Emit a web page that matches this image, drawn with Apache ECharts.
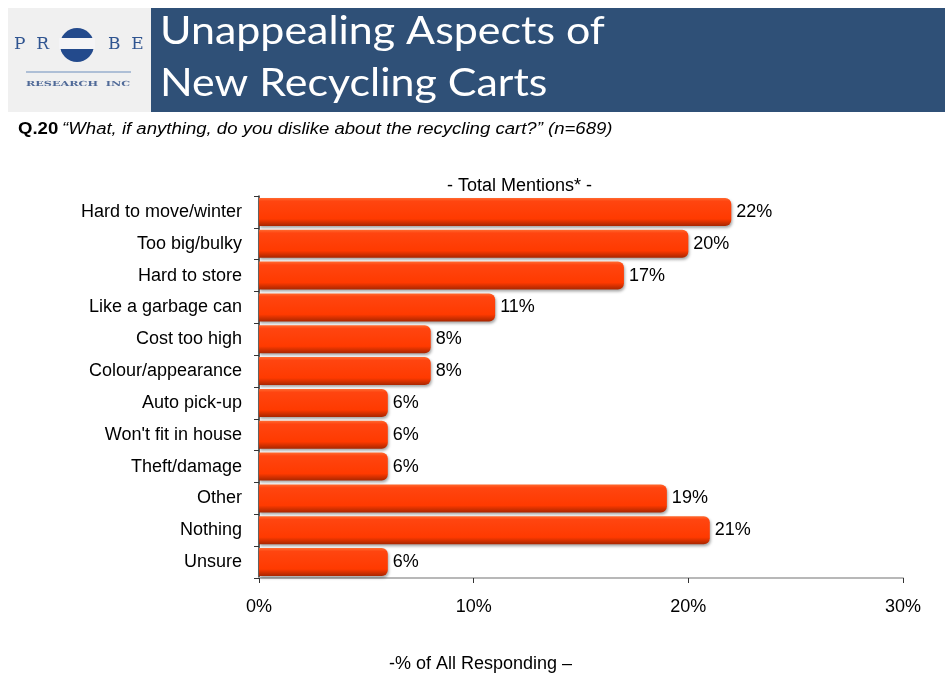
<!DOCTYPE html>
<html>
<head>
<meta charset="utf-8">
<script src="https://cdn.jsdelivr.net/npm/echarts@6/dist/echarts.min.js"></script>
<style>
  html, body { margin: 0; padding: 0; background: #fff; }
  #chart { width: 951px; height: 675px; }
</style>
</head>
<body>
<div id="chart"></div>
<script>
// categories, top to bottom
var categories = ['Hard to move/winter', 'Too big/bulky', 'Hard to store', 'Like a garbage can',
  'Cost too high', 'Colour/appearance', 'Auto pick-up', "Won't fit in house", 'Theft/damage',
  'Other', 'Nothing', 'Unsure'];
// total mentions, %
var mentions = [22, 20, 17, 11, 8, 8, 6, 6, 6, 19, 21, 6];
var xTicks = [0, 10, 20, 30];

var chart = echarts.init(document.getElementById('chart'));

var barColor = new echarts.graphic.LinearGradient(0, 0, 0, 1, [
  { offset: 0, color: '#ff6a30' },
  { offset: 0.12, color: '#ff4510' },
  { offset: 0.75, color: '#ff3a00' },
  { offset: 1, color: '#a82600' }
]);

chart.setOption({
  backgroundColor: '#fff',
  animation: false,
  textStyle: { fontFamily: 'Liberation Sans, Arial, sans-serif' },
  graphic: [
    // logo block
    { type: 'rect', shape: { x: 8, y: 8, width: 143, height: 104 }, style: { fill: '#f0f0f0' } },
    { type: 'text', x: 14, y: 36, style: { text: 'P  R', font: '17px "DejaVu Serif", serif', fill: '#2f5490' } },
    { type: 'circle', shape: { cx: 77, cy: 45, r: 17 }, style: { fill: '#234a8c' } },
    { type: 'rect', shape: { x: 59, y: 38, width: 36, height: 11 }, style: { fill: '#f4f4f6' } },
    { type: 'text', x: 108, y: 36, style: { text: 'B  E', font: '17px "DejaVu Serif", serif', fill: '#2f5490' } },
    { type: 'rect', shape: { x: 26, y: 71, width: 105, height: 2 }, style: { fill: '#aebfd6' } },
    { type: 'text', x: 26, y: 81, scaleX: 1.6, style: { text: 'RESEARCH  INC', font: 'bold 7px "DejaVu Serif", serif', fill: '#506a98' } },
    // title banner
    { type: 'rect', shape: { x: 151, y: 8, width: 794, height: 104 }, style: { fill: '#2f5077' } },
    { type: 'text', x: 160, y: 13, scaleX: 1.13, style: { text: 'Unappealing Aspects of', font: '38px Lato, "Open Sans", sans-serif', fill: '#ffffff' } },
    { type: 'text', x: 160, y: 65, scaleX: 1.13, style: { text: 'New Recycling Carts', font: '38px Lato, "Open Sans", sans-serif', fill: '#ffffff' } },
    // question
    { type: 'text', x: 18, y: 122, scaleX: 1.16, style: {
      text: '{b|Q.20} {i|\u201cWhat, if anything, do you dislike about the recycling cart?\u201d (n=689)}',
      rich: {
        b: { font: 'bold 16px "Liberation Sans", Arial', fill: '#000' },
        i: { font: 'italic 16px "Liberation Sans", Arial', fill: '#000' }
      }
    } },
    { type: 'text', x: 447, y: 177, style: { text: '- Total Mentions* -', font: '18px "Liberation Sans", Arial', fill: '#000' } },
    { type: 'text', x: 389, y: 655, style: { text: '-% of All Responding \u2013', font: '18px "Liberation Sans", Arial', fill: '#000' } }
  ],
  grid: { left: 259, right: 48, top: 196, bottom: 97 },
  xAxis: {
    type: 'value',
    min: xTicks[0],
    max: xTicks[xTicks.length - 1],
    interval: 10,
    axisLine: { show: true, lineStyle: { color: '#b8b8b8', width: 2 } },
    axisTick: { show: true, length: 5, lineStyle: { color: '#333' } },
    splitLine: { show: false },
    axisLabel: { formatter: '{value}%', color: '#000', fontSize: 18, margin: 20 }
  },
  yAxis: {
    type: 'category',
    data: categories,
    inverse: true,
    axisLine: { show: true, lineStyle: { color: '#333', width: 1.5 } },
    axisTick: { show: true, length: 5, lineStyle: { color: '#333' } },
    axisLabel: { color: '#000', fontSize: 18, margin: 17 }
  },
  series: [{
    type: 'bar',
    data: mentions,
    barCategoryGap: '12%',
    itemStyle: {
      color: barColor,
      borderRadius: [0, 6, 6, 0],
      shadowColor: 'rgba(0,0,0,0.35)',
      shadowBlur: 3,
      shadowOffsetX: 1,
      shadowOffsetY: 2
    },
    label: {
      show: true,
      position: 'right',
      distance: 5,
      formatter: '{c}%',
      color: '#000',
      fontSize: 18
    }
  }]
});
</script>
</body>
</html>
